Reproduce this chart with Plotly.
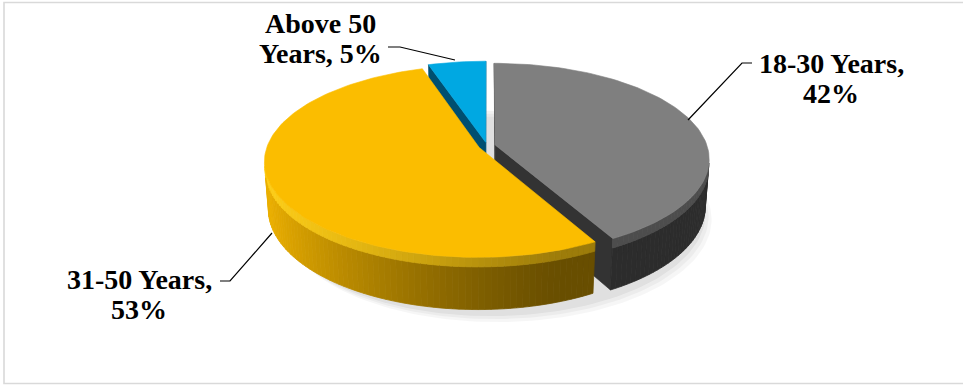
import numpy as np
import plotly.graph_objects as go

# Age-group shares (percent of respondents)
categories = ["18-30 Years", "31-50 Years", "Above 50 Years"]
shares = [42, 53, 5]

# Slice styling: top face, outer wall (lit / shaded end), radial cut face
top_colors = ["#7f7f7f", "#fbbd00", "#00a8e2"]
wall_light = ["#3d3d3d", "#eaae00", "#0a6e94"]
wall_dark = ["#2c2c2c", "#684e00", "#004e6c"]
cut_colors = ["#333333", "#8a6700", "#004f70"]
rim_colors = ["#8a8a8a", "#ffd21c", "#3cc4f0"]

# Label placement (pixel canvas), two text lines per label
label_xy = [(831, 72), (139, 288), (320, 32)]
leader_paths = [
    [(752, 63), (742, 63), (688, 120)],
    [(220, 281), (230, 281), (272, 233)],
    [(388, 47), (400, 47), (455, 60)],
]

W, H = 963, 387

# 3-D pie camera
CX, CY = 487.0, 146.0
PHI = np.arcsin(0.442)
SPH, CPH = np.sin(PHI), np.cos(PHI)
DIST = 6.28
FOC = 1331.0
THICK = 0.25
BEVEL = 0.045
EXPLODE = 0.04


def project(X, Z, h):
    depth = DIST + Z * CPH - h * SPH
    sx = CX + FOC * X / depth
    sy = CY - FOC * (h * CPH + Z * SPH) / depth
    return sx, sy


def hex_rgb(c):
    c = c.lstrip("#")
    return np.array([int(c[i:i + 2], 16) for i in (0, 2, 4)], dtype=float)


def mix(c1, c2, t):
    a, b = hex_rgb(c1), hex_rgb(c2)
    r = a + (b - a) * t
    return "#%02x%02x%02x" % tuple(int(v) for v in np.clip(r, 0, 255).round())


fig = go.Figure()


def poly(xs, ys, color, lw=0.6, opacity=1.0):
    fig.add_trace(go.Scatter(
        x=list(xs) + [xs[0]], y=list(ys) + [ys[0]], mode="lines",
        fill="toself", fillcolor=color, opacity=opacity,
        line=dict(color=color, width=lw), hoverinfo="skip", showlegend=False))


total = float(sum(shares))
bounds = np.concatenate([[0.0], np.cumsum(shares) / total * 2 * np.pi])

slices = []
for i, v in enumerate(shares):
    a0, a1 = bounds[i], bounds[i + 1]
    mid = 0.5 * (a0 + a1)
    ox, oz = EXPLODE * np.sin(mid), EXPLODE * np.cos(mid)
    slices.append((i, a0, a1, ox, oz))

# soft drop shadow under the disc
for dx, dy, al in [(10, 12, 0.035), (7, 9, 0.04), (4, 6, 0.05)]:
    th = np.linspace(0, 2 * np.pi, 200)
    sx, sy = project(np.sin(th) * 1.02, np.cos(th) * 1.02, -THICK)
    poly(sx + dx, sy + dy, "rgba(0,0,0,%.3f)" % al, lw=0)

cam = np.array([0.0, DIST * SPH, -DIST * CPH])  # (X, h, Z)

# painter's order: back slice first, front slice last
order = [2, 0, 1]
for i in order:
    _, a0, a1, ox, oz = slices[i]
    th = np.linspace(a0, a1, max(8, int((a1 - a0) / (2 * np.pi) * 240)))

    # radial cut faces that turn toward the camera
    for ang, sign in ((a0, -1), (a1, 1)):
        nx, nz = sign * np.cos(ang), -sign * np.sin(ang)
        px, pz = ox + np.sin(ang), oz + np.cos(ang)
        to_cam = np.array([cam[0] - px, cam[2] - pz])
        if nx * to_cam[0] + nz * to_cam[1] > 0:
            Xs = [ox, ox + np.sin(ang), ox + np.sin(ang), ox]
            Zs = [oz, oz + np.cos(ang), oz + np.cos(ang), oz]
            hs = [0, 0, -THICK, -THICK]
            sx, sy = project(np.array(Xs), np.array(Zs), np.array(hs))
            poly(sx, sy, cut_colors[i])

    # outer wall, only the part facing the camera
    X = ox + np.sin(th)
    Z = oz + np.cos(th)
    vis = np.sin(th) * (cam[0] - X) + np.cos(th) * (cam[2] - Z) > 0
    for k in range(len(th) - 1):
        if not (vis[k] and vis[k + 1]):
            continue
        tmid = 0.5 * (th[k] + th[k + 1])
        t = np.clip((-np.sin(tmid) + 0.35) / 1.3, 0, 1) ** 1.3
        col = mix(wall_dark[i], wall_light[i], t)
        Xs = np.array([X[k], X[k + 1], X[k + 1], X[k]])
        Zs = np.array([Z[k], Z[k + 1], Z[k + 1], Z[k]])
        sx, sy = project(Xs, Zs, np.array([-BEVEL, -BEVEL, -THICK, -THICK]))
        poly(sx, sy, col, lw=0.8)
        # rounded top edge catching the light
        bcol = mix(col, rim_colors[i], 0.35 + 0.5 * t)
        sx, sy = project(Xs, Zs, np.array([0, 0, -BEVEL, -BEVEL]))
        poly(sx, sy, bcol, lw=0.8)

    # top face
    sx, sy = project(np.concatenate([[ox], X]), np.concatenate([[oz], Z]),
                     np.zeros(len(th) + 1))
    poly(sx, sy, top_colors[i])

# data labels: "<category>, <share>%" split over two lines
font = dict(family="Liberation Serif", size=28, color="black", weight="bold")
for i, (cat, val) in enumerate(zip(categories, shares)):
    words = f"{cat}, {val}%".split(" ")
    lines = [" ".join(words[:2]), " ".join(words[2:])]
    lx, ly = label_xy[i]
    for j, txt in enumerate(lines):
        fig.add_annotation(x=lx, y=ly + 30 * j - 9, text=txt, showarrow=False,
                           xanchor="center", yanchor="middle", font=font)

shapes = []
for pts in leader_paths:
    path = "M " + " L ".join(f"{x},{y}" for x, y in pts)
    shapes.append(dict(type="path", path=path, xref="x", yref="y",
                       line=dict(color="black", width=1.2)))
# chart area border
shapes.append(dict(type="rect", xref="x", yref="y", x0=4, y0=2.5, x1=970, y1=383.5,
                   line=dict(color="#d9d9d9", width=1.6), fillcolor="rgba(0,0,0,0)",
                   layer="below"))

fig.update_layout(
    width=W, height=H, margin=dict(l=0, r=0, t=0, b=0),
    paper_bgcolor="white", plot_bgcolor="white", shapes=shapes,
    xaxis=dict(range=[0, W], visible=False, fixedrange=True),
    yaxis=dict(range=[H, 0], visible=False, fixedrange=True),
    showlegend=False,
)

fig.write_html("out.html")
